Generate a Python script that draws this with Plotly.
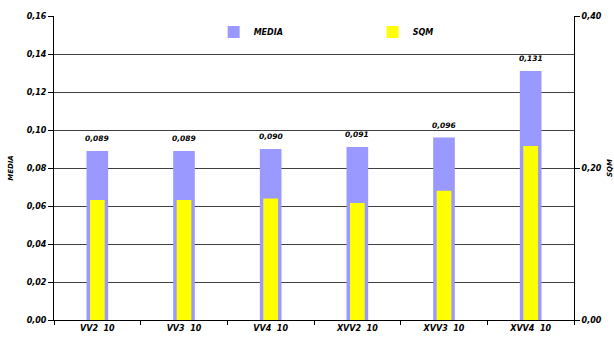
import plotly.graph_objects as go

categories = ["VV2  10", "VV3  10", "VV4  10", "XVV2  10", "XVV3  10", "XVV4  10"]
media = [0.089, 0.089, 0.090, 0.091, 0.096, 0.131]
sqm = [0.158, 0.158, 0.160, 0.154, 0.170, 0.229]

FONT = dict(family="DejaVu Sans", size=8, color="#000000", weight="bold", style="italic")

fig = go.Figure()
fig.add_trace(go.Bar(x=categories, y=media, name="MEDIA", marker=dict(color="#9999FF", line=dict(width=0)),
                     width=0.25, yaxis="y"))
fig.add_trace(go.Bar(x=categories, y=sqm, name="SQM", marker=dict(color="#FFFF00", line=dict(width=0)),
                     width=0.17, yaxis="y2"))

for c, v in zip(categories, media):
    fig.add_annotation(x=c, y=v, xref="x", yref="y", text=f"{v:.3f}".replace(".", ","),
                       showarrow=False, yanchor="bottom", yshift=6, font=dict(FONT, size=7.5))

fig.update_layout(
    width=614, height=338,
    margin=dict(l=54, r=40, t=16, b=18),
    paper_bgcolor="white", plot_bgcolor="white",
    barmode="overlay",
    separators=",.",
    font=FONT,
    showlegend=True,
    legend=dict(orientation="h", x=0.307, y=0.947, xanchor="left", yanchor="middle",
                bgcolor="rgba(0,0,0,0)", font=FONT, entrywidth=114, entrywidthmode="pixels",
                itemwidth=30, traceorder="normal"),
    xaxis=dict(type="category", showline=True, linecolor="#000000", linewidth=1,
               ticks="outside", ticklen=4, tickcolor="#000000", tickson="boundaries",
               showgrid=False, tickfont=FONT, range=[-0.5, 5.5], automargin=False),
    yaxis=dict(range=[0, 0.16], dtick=0.02, tickformat=".2f", showline=True, linecolor="#000000",
               linewidth=1, ticks="outside", ticklen=5, tickcolor="#000000",
               showgrid=True, gridcolor="#404040", gridwidth=1, zeroline=False, automargin=False,
               tickfont=FONT, title=dict(text="MEDIA", font=dict(FONT, size=7), standoff=12)),
    yaxis2=dict(range=[0, 0.40], dtick=0.20, tickformat=".2f", overlaying="y", side="right",
                showline=True, linecolor="#000000", linewidth=1, ticks="outside", ticklen=5,
                tickcolor="#000000", showgrid=False, zeroline=False, tickfont=FONT, automargin=False,
                title=dict(text="SQM", font=dict(FONT, size=7), standoff=8)),
)

fig.write_html("out.html")
